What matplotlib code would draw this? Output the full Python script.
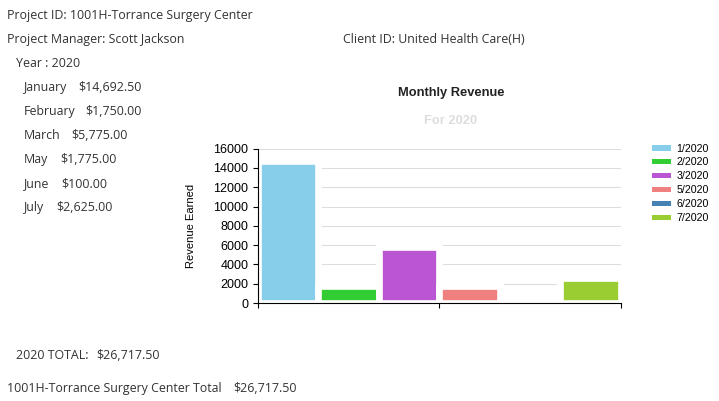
import matplotlib
matplotlib.use("Agg")
import matplotlib.pyplot as plt
from matplotlib.patches import Patch

# ---- data ----
project_id = "1001H-Torrance Surgery Center"
project_manager = "Scott Jackson"
client_id = "United Health Care(H)"
year = 2020
months = ["January", "February", "March", "May", "June", "July"]
revenue = [14692.50, 1750.00, 5775.00, 1775.00, 100.00, 2625.00]
series_labels = ["1/2020", "2/2020", "3/2020", "5/2020", "6/2020", "7/2020"]
series_colors = ["#87CEEB", "#32CD32", "#BA55D3", "#F08080", "#4682B4", "#9ACD32"]
y_ticks = [0, 2000, 4000, 6000, 8000, 10000, 12000, 14000, 16000]

W, H = 719, 401
fig = plt.figure(figsize=(W / 100, H / 100), dpi=100)
fig.patch.set_facecolor("white")

def fx(px):
    return px / W

def fy(py):
    return 1 - (py + 1.5) / H

# ---- report text ----
rep_font = dict(family="Open Sans", fontsize=8.9, color="#333333", va="center", ha="left")
fig.text(fx(7), fy(14), f"Project ID: {project_id}", **rep_font)
fig.text(fx(7), fy(38), f"Project Manager: {project_manager}", **rep_font)
fig.text(fx(343), fy(38), f"Client ID: {client_id}", **rep_font)
fig.text(fx(16), fy(62), f"Year : {year}", **rep_font)

value_x = [78, 85.7, 71.3, 60.3, 61.7, 56.7]
for i, (m, v) in enumerate(zip(months, revenue)):
    yy = 86 + 24 * i
    fig.text(fx(23.3), fy(yy), m, **rep_font)
    fig.text(fx(value_x[i]), fy(yy), f"${v:,.2f}", **rep_font)

total = sum(revenue)
fig.text(fx(16), fy(354), f"{year} TOTAL:", **rep_font)
fig.text(fx(96), fy(354), f"${total:,.2f}", **rep_font)
fig.text(fx(7), fy(387), f"{project_id} Total", **rep_font)
fig.text(fx(233), fy(387), f"${total:,.2f}", **rep_font)

def gy(py):
    return 1 - py / H

# ---- chart ----
cfont = "Liberation Sans"
ax = fig.add_axes([fx(258), gy(303), fx(620.7) - fx(258), gy(148.7) - gy(303)])
n = len(revenue)
for i in range(n):
    ax.bar(i + 0.5, revenue[i], width=1.0, color=series_colors[i],
           edgecolor="white", linewidth=4.8, zorder=2)
ax.set_xlim(0, n)
ax.set_ylim(0, 16000)
ax.set_yticks(y_ticks)
ax.set_yticklabels([str(t) for t in y_ticks], fontfamily=cfont, fontsize=9)
ax.set_xticks([0, n / 2, n])
ax.set_xticklabels([])
ax.tick_params(axis="y", length=3.6, width=0.8, pad=3.2, colors="black")
ax.tick_params(axis="x", length=3.6, width=0.8, direction="out")
ax.yaxis.grid(True, color="#dddddd", linewidth=0.8, zorder=0)
ax.set_axisbelow(True)
for s in ["top", "right"]:
    ax.spines[s].set_visible(False)
for s in ["left", "bottom"]:
    ax.spines[s].set_linewidth(0.8)
    ax.spines[s].set_zorder(3)

fig.text(fx(191), gy(226), "Revenue Earned", rotation=90, fontfamily=cfont,
         fontsize=8, ha="center", va="center")
fig.text(fx(451), gy(92.7), "Monthly Revenue", fontfamily=cfont, fontsize=9.3,
         fontweight="bold", ha="center", va="center", color="#222222")
fig.text(fx(451), gy(120.7), f"For {year}", fontfamily=cfont, fontsize=9.3,
         fontweight="bold", ha="center", va="center", color="#dddddd")

handles = [Patch(facecolor=c, edgecolor="none") for c in series_colors]
fig.legend(handles, series_labels, loc="upper left",
           bbox_to_anchor=(fx(651.7), gy(143.5)), frameon=False,
           prop=dict(family=cfont, size=7.7), borderpad=0, borderaxespad=0,
           handlelength=1.8, handleheight=0.44, handletextpad=0.5,
           labelspacing=0.37)

fig.savefig("out.png", dpi=100, facecolor="white")
